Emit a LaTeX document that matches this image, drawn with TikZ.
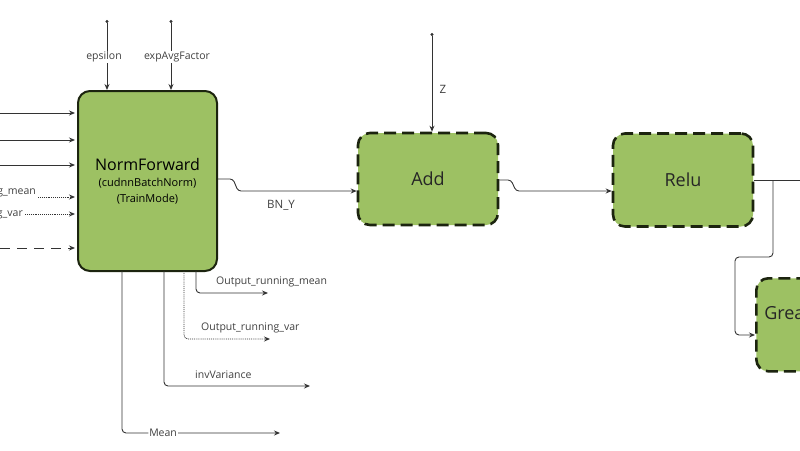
\documentclass[tikz,border=0pt]{standalone}
\usepackage{fontspec}
\setmainfont{Open Sans}
\usetikzlibrary{arrows.meta}
\definecolor{boxgreen}{HTML}{9DC163}
\definecolor{edgedark}{HTML}{1C240F}
\definecolor{wirec}{HTML}{333333}
\begin{document}
\begin{tikzpicture}[x=1pt,y=-1pt,
  blk/.style={draw=edgedark, line width=2pt, fill=boxgreen, rounded corners=12pt, inner sep=0pt},
  dblk/.style={blk, line width=2.6pt, dash pattern=on 12pt off 6pt},
  wire/.style={draw=wirec, line width=0.9pt, -{Stealth[length=6pt,width=5pt]}},
  plain/.style={draw=wirec, line width=0.9pt},
  lab/.style={font=\fontsize{10.5}{12}\selectfont, text=black!75, inner sep=1pt},
  big/.style={font=\fontsize{18}{22}\selectfont, text=black!85}
]
\useasboundingbox (0,0) rectangle (800,450);
\clip (0,0) rectangle (800,450);

% blocks
\node[blk, minimum width=139pt, minimum height=180pt, align=center] (nf) at (147.5,181)
  {{\fontsize{16}{19}\selectfont NormForward}\\[4pt]
   {\fontsize{11}{13}\selectfont (cudnnBatchNorm)}\\[4pt]
   {\fontsize{11}{13}\selectfont (TrainMode)}};
\node[dblk, big, minimum width=140pt, minimum height=92pt] (add) at (428,179) {Add};
\node[dblk, big, minimum width=140pt, minimum height=93pt] (relu) at (683,180) {Relu};
\node[dblk, big, minimum width=100pt, minimum height=93pt, anchor=north west,
      text width=84pt, align=left] (gt) at (755,277) {Greater\\[2pt]\mbox{}};

% top inputs
\coordinate (t1) at (107,20);
\coordinate (t2) at (171,20);
\draw[wire, {Circle[length=3pt]}-{Stealth[length=6pt,width=5pt]}] (t1) -- node[lab, fill=white, pos=0.53, xshift=-3pt] (lt1) {epsilon} (t1 |- nf.north);
\draw[wire, {Circle[length=3pt]}-{Stealth[length=6pt,width=5pt]}] (t2) -- node[lab, fill=white, pos=0.53, xshift=6pt] (lt2) {expAvgFactor} (t2 |- nf.north);

% left inputs
\coordinate (i1) at (0,113);
\coordinate (i2) at (0,140);
\coordinate (i3) at (0,165);
\coordinate (i6) at (0,248);
\node[lab, anchor=east] (l4) at (37,192) {running\_mean};
\node[lab, anchor=east] (l5) at (24,214) {running\_var};
\coordinate (i4) at (38,197);
\coordinate (i5) at (25,214);
\draw[wire, shorten >=2pt] (i1) -- (i1 -| nf.west);
\draw[wire, shorten >=2pt] (i2) -- (i2 -| nf.west);
\draw[wire, shorten >=2pt] (i3) -- (i3 -| nf.west);
\draw[wire, shorten >=2pt, densely dotted] (i4) -- (i4 -| nf.west);
\draw[wire, shorten >=2pt, densely dotted] (i5) -- (i5 -| nf.west);
\draw[wire, shorten >=2pt, dash pattern=on 10pt off 7pt] (i6) -- (i6 -| nf.west);

% bottom outputs
\coordinate (b1) at (196,271);
\coordinate (b2) at (184,271);
\coordinate (b3) at (164,271);
\coordinate (b4) at (122,271);
\coordinate (o1) at (268,293);
\coordinate (o2) at (270,339);
\coordinate (o3) at (310,386);
\coordinate (o4) at (280,433);
\draw[wire, rounded corners=4pt] (b1) |- (o1);
\draw[wire, rounded corners=4pt, densely dotted] (b2) |- (o2);
\draw[wire, rounded corners=4pt] (b3) |- (o3);
\draw[wire, rounded corners=4pt] (b4) |- node[lab, fill=white, pos=0.63] (l8) {Mean} (o4);
\node[lab, anchor=west] (l6) at (215,282) {Output\_running\_mean};
\node[lab, anchor=west] (l7) at (200,328) {Output\_running\_var};
\node[lab, anchor=west] (l9) at (194,375) {invVariance};

% BN_Y
\draw[wire, rounded corners=3pt] (nf.east |- 0,179) -- (233,179) -- (238,191) -- (add.west |- 0,191);
\node[lab, font=\fontsize{11.5}{12}\selectfont] (bny) at (281,205) {BN\_Y};

% Z
\coordinate (z) at (432,33);
\draw[wire, {Circle[length=3pt]}-{Stealth[length=6pt,width=5pt]}] (z) -- (z |- add.north);
\node[lab, font=\fontsize{11.5}{12}\selectfont] (zl) at (443,89) {Z};

% Add -> Relu
\draw[wire, rounded corners=3pt] (add.east |- 0,180) -- (511,180) -- (516,191) -- (relu.west |- 0,191);

% Relu out
\coordinate (rout) at (800,180);
\coordinate (br) at (773,180);
\draw[plain] (relu.east) -- (rout);
\draw[wire, rounded corners=4pt] (br) -- (773,257) -- (735,257) -- (735,335) -- (gt.west |- 0,335);
\end{tikzpicture}
\end{document}
